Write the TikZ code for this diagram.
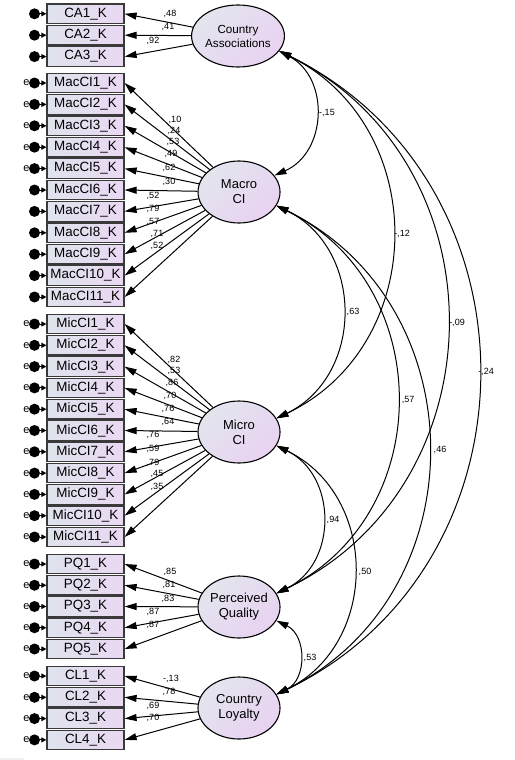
\documentclass[tikz,border=0pt]{standalone}
\usepackage{fontspec}
\setmainfont{Liberation Sans}
\usetikzlibrary{shapes.geometric,arrows.meta}
\definecolor{boxL}{HTML}{DFE3EC}
\definecolor{boxR}{HTML}{EAD8F3}
\definecolor{ellA}{HTML}{E3E5EE}
\definecolor{ellB}{HTML}{E8D2F1}
\definecolor{boxline}{HTML}{3A3A3A}
\tikzset{
  obs/.style={draw=boxline, line width=1.2pt, minimum width=77pt, minimum height=19.5pt, inner sep=0pt,
    left color=boxL, right color=boxR, font=\fontsize{13.4}{13.4}\selectfont},
  lat/.style={ellipse, draw=black, line width=1.1pt, minimum width=82pt, minimum height=62pt, inner sep=0pt,
    align=center, top color=ellA, bottom color=ellB, shading angle=45, font=\fontsize{13}{15}\selectfont},
  err/.style={circle, fill=black, minimum size=11pt, inner sep=0pt},
  etext/.style={font=\fontsize{11}{11}\selectfont, inner sep=0pt},
  errarrow/.style={line width=1pt, -{Triangle[length=5pt,width=5pt]}},
  load/.style={line width=1pt, -{Triangle[length=12pt,width=7pt]}},
  cov/.style={line width=1pt, {Triangle[length=12pt,width=7pt]}-{Triangle[length=12pt,width=7pt]}, bend left=64, looseness=1.18},
  lbl/.style={font=\fontsize{9}{9}\selectfont, inner sep=0pt}
}
\begin{document}
\begin{tikzpicture}[x=1pt,y=1pt]
\fill[white] (0,0) rectangle (514,-760);
\useasboundingbox (0,0) rectangle (514,-760);
\fill[gray!12] (0,-757.5) rectangle (24,-760);

% latent variables
\node[lat, font=\fontsize{11.7}{14}\selectfont] (CA) at (238,-36) {Country\\Associations};
\node[lat] (MAC) at (239,-192) {Macro\\CI};
\node[lat] (MIC) at (239,-432) {Micro\\CI};
\node[lat] (PQ) at (239,-607) {Perceived\\Quality};
\node[lat] (CL) at (239,-708) {Country\\Loyalty};

% Country Associations indicators
\foreach \i in {1,2,3} {
  \pgfmathsetmacro\yy{-(13.8+21.4*(\i-1))}
  \node[obs] (ca\i) at (85.5,\yy) {CA\i\_K};
  \node[err] (eca\i) at (34.5,\yy) {};
  \draw[errarrow] (eca\i) -- (ca\i.west);
  \draw[load] (CA) -- (ca\i.east);
}
% Macro CI indicators
\foreach \i in {1,...,11} {
  \pgfmathsetmacro\yy{-(83+21.4*(\i-1))}
  \node[obs] (mac\i) at (85.5,\yy) {MacCI\i\_K};
  \ifnum\i<6 \node[etext] at (26.5,\yy) {e}; \fi
  \node[err] (emac\i) at (34.5,\yy) {};
  \draw[errarrow] (emac\i) -- (mac\i.west);
  \draw[load] (MAC) -- (mac\i.east);
}
% Micro CI indicators
\foreach \i in {1,...,11} {
  \pgfmathsetmacro\yy{-(324+21.3*(\i-1))}
  \node[obs] (mic\i) at (85.5,\yy) {MicCI\i\_K};
  \node[etext] at (26.5,\yy) {e};
  \node[err] (emic\i) at (34.5,\yy) {};
  \draw[errarrow] (emic\i) -- (mic\i.west);
  \draw[load] (MIC) -- (mic\i.east);
}
% Perceived Quality indicators
\foreach \i in {1,...,5} {
  \pgfmathsetmacro\yy{-(564+21.25*(\i-1))}
  \node[obs] (pq\i) at (85.5,\yy) {PQ\i\_K};
  \node[etext] at (26.5,\yy) {e};
  \node[err] (epq\i) at (34.5,\yy) {};
  \draw[errarrow] (epq\i) -- (pq\i.west);
  \draw[load] (PQ) -- (pq\i.east);
}
% Country Loyalty indicators
\foreach \i in {1,...,4} {
  \pgfmathsetmacro\yy{-(676+21.3*(\i-1))}
  \node[obs] (cl\i) at (85.5,\yy) {CL\i\_K};
  \node[etext] at (26.5,\yy) {e};
  \node[err] (ecl\i) at (34.5,\yy) {};
  \draw[errarrow] (ecl\i) -- (cl\i.west);
  \draw[load] (CL) -- (cl\i.east);
}

% loading labels
\foreach \x/\y/\t in {170/14/{,48},168/27/{,41},153/41/{,92},
  175/120/{,10},174/131/{,24},173/142/{,53},171/154/{,49},169/168/{,62},169/182/{,30},
  153/196/{,52},153/209/{,79},153/222/{,57},157/234/{,71},157/246/{,52},
  174/360/{,82},174/371/{,53},172/383/{,86},170/396/{,70},168/409/{,76},168/422/{,64},
  153/435/{,76},153/449/{,59},153/463/{,79},157/474/{,45},157/487/{,35},
  170/572/{,85},169/585/{,81},168/599/{,83},153/612/{,87},153/625/{,87},
  171/679/{-,13},169/692/{,78},153/706/{,69},153/718/{,70}}
  \node[lbl] at (\x,-\y) {\t};

% covariances
\draw[cov] (CA.-20) to (MAC.25);
\draw[cov] (CA.-20) to (MIC.20);
\draw[cov] (CA.-20) to (PQ.20);
\draw[cov] (CA.-20) to (CL.20);
\draw[cov] (MAC.-20) to (MIC.20);
\draw[cov] (MAC.-20) to (PQ.20);
\draw[cov] (MAC.-20) to (CL.20);
\draw[cov] (MIC.-20) to (PQ.20);
\draw[cov] (MIC.-20) to (CL.20);
\draw[cov] (PQ.-20) to (CL.20);

% covariance labels
\foreach \x/\y/\t in {327/113/{-,15},402/234/{-,12},353/312/{,63},457/323/{-,09},486/372/{-,24},
  408/400/{,57},440/450/{,46},333/520/{,94},365/572/{,50},310/658/{,53}}
  \node[lbl] at (\x,-\y) {\t};
\end{tikzpicture}
\end{document}
